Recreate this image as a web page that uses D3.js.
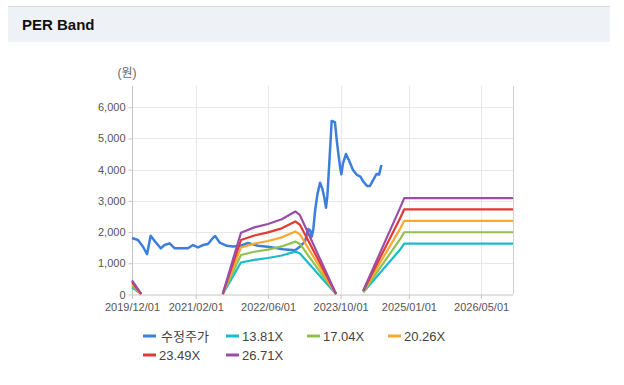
<!DOCTYPE html>
<html>
<head>
<meta charset="utf-8">
<script src="https://cdn.jsdelivr.net/npm/d3@7"></script>
<style>
  body { margin: 0; background: #fff; }
  svg { display: block; font-family: "Liberation Sans", Arial, "Noto Sans CJK KR", sans-serif; }
</style>
</head>
<body>
<svg id="chart"></svg>
<script>
/* price line (수정주가) */
const priceDates = [
  '2019-12-01', '2020-01-10', '2020-02-13', '2020-03-11', '2020-04-04', '2020-05-01',
  '2020-06-11', '2020-07-07', '2020-08-10', '2020-09-13', '2020-12-11', '2021-01-13',
  '2021-02-16', '2021-03-21', '2021-04-24', '2021-05-28', '2021-06-12', '2021-07-12',
  '2021-08-28', '2021-10-09', '2021-11-25', '2022-01-17', '2022-03-26', '2022-06-14',
  '2022-09-09', '2022-11-29', '2023-01-01', '2023-02-04', '2023-02-26', '2023-03-10',
  '2023-03-21', '2023-04-01', '2023-04-12', '2023-04-28', '2023-05-16', '2023-05-31',
  '2023-06-14', '2023-06-25', '2023-07-04', '2023-07-17', '2023-07-26', '2023-08-02',
  '2023-08-24', '2023-09-05', '2023-09-15', '2023-09-27', '2023-10-06', '2023-10-17',
  '2023-11-06', '2023-11-28', '2023-12-23', '2024-01-19', '2024-02-11', '2024-03-01',
  '2024-03-26', '2024-04-15', '2024-05-07', '2024-05-29', '2024-06-15', '2024-07-01'
]
const priceValues = [
  1810, 1745, 1530, 1290, 1885, 1715,
  1480, 1585, 1640, 1480, 1480, 1585,
  1510, 1585, 1620, 1820, 1870, 1660,
  1560, 1540, 1560, 1650, 1560, 1520,
  1450, 1420, 1530, 1700, 2100, 2060,
  1850, 2100, 2650, 3200, 3580, 3400,
  3100, 2780, 3150, 4200, 4950, 5560,
  5520, 4950, 4550, 4100, 3850, 4200,
  4500, 4280, 3990, 3830, 3780, 3620,
  3480, 3480, 3670, 3860, 3840, 4150
]

/* PER band lines, null = no value */
const bandDates = [
  '2019-12-01', '2020-02-01', '2020-03-01', '2021-08-01', '2021-12-01', '2022-03-01',
  '2022-06-01', '2022-09-01', '2022-12-01', '2023-01-01', '2023-09-01', '2023-10-01',
  '2024-03-01', '2024-11-01', '2024-12-01', '2026-12-01'
]
const band1381 = [230, 10, null, 10, 1025, 1110, 1170, 1250, 1375, 1315, 10, null, 70, 1425, 1630, 1630]
const band1704 = [290, 12, null, 12, 1265, 1370, 1440, 1540, 1695, 1620, 12, null, 85, 1755, 1995, 1995]
const band2026 = [345, 15, null, 15, 1505, 1630, 1715, 1830, 2020, 1925, 15, null, 100, 2085, 2360, 2360]
const band2349 = [395, 17, null, 17, 1745, 1890, 1990, 2120, 2340, 2235, 17, null, 115, 2420, 2730, 2730]
const band2671 = [450, 20, null, 20, 1980, 2150, 2260, 2410, 2660, 2540, 20, null, 130, 2750, 3090, 3090]

const seriesNames = ['수정주가', '13.81X', '17.04X', '20.26X', '23.49X', '26.71X']
const seriesColors = ['#3b7fdb', '#17bccd', '#8fc24f', '#f9a832', '#e03a32', '#9b4ea6']

const yTicks = [0, 1000, 2000, 3000, 4000, 5000, 6000]
const xTicks = ['2019/12/01', '2021/02/01', '2022/06/01', '2023/10/01', '2025/01/01', '2026/05/01']

const W = 624
const H = 385
const margin = { top: 86, right: 111, bottom: 90.5, left: 132 }

const parse = d3.timeParse('%Y-%m-%d')
const parseTick = d3.timeParse('%Y/%m/%d')

const svg = d3.select('#chart').attr('width', W).attr('height', H)

// header
svg.append('rect').attr('x', 8).attr('y', 6).attr('width', 602).attr('height', 36).attr('fill', '#eef2f7')
svg.append('line').attr('x1', 8).attr('x2', 610).attr('y1', 6.5).attr('y2', 6.5).attr('stroke', '#d6d9de')
svg.append('text').attr('x', 22).attr('y', 30)
  .attr('font-size', 15).attr('font-weight', 'bold').attr('fill', '#111')
  .text('PER Band')

const x = d3.scaleTime()
  .domain([parse('2019-12-01'), parse('2026-12-01')])
  .range([margin.left, W - margin.right])

const y = d3.scaleLinear()
  .domain([0, 6680])
  .range([H - margin.bottom, margin.top])

// grid
svg.append('g').selectAll('line').data(yTicks.slice(1)).join('line')
  .attr('x1', margin.left).attr('x2', W - margin.right)
  .attr('y1', d => Math.round(y(d)) + 0.5).attr('y2', d => Math.round(y(d)) + 0.5)
  .attr('stroke', '#e8e8e8')
svg.append('g').selectAll('line').data(xTicks.slice(1)).join('line')
  .attr('x1', d => Math.round(x(parseTick(d))) + 0.5).attr('x2', d => Math.round(x(parseTick(d))) + 0.5)
  .attr('y1', margin.top).attr('y2', H - margin.bottom)
  .attr('stroke', '#e8e8e8')

// right frame
svg.append('line')
  .attr('x1', W - margin.right + 0.5).attr('x2', W - margin.right + 0.5)
  .attr('y1', margin.top).attr('y2', H - margin.bottom)
  .attr('stroke', '#d0d0d0')

// axes
const yAxis = d3.axisLeft(y).tickValues(yTicks).tickFormat(d3.format(',')).tickSize(4).tickPadding(3)
const gy = svg.append('g').attr('transform', `translate(${margin.left + 0.5},0)`).call(yAxis)
const xAxis = d3.axisBottom(x).tickValues(xTicks.map(parseTick)).tickFormat(d3.timeFormat('%Y/%m/%d')).tickSize(4).tickPadding(4)
const gx = svg.append('g').attr('transform', `translate(0,${H - margin.bottom + 0.5})`).call(xAxis)
;[gx, gy].forEach(g => {
  g.select('.domain').attr('stroke', '#c4c4c4')
  g.selectAll('.tick line').attr('stroke', '#c4c4c4')
  g.selectAll('.tick text').attr('fill', '#555').attr('font-size', 11)
    .attr('font-family', '"Liberation Sans", Arial, sans-serif')
})
gy.select('.domain').attr('d', `M0,${margin.top}V${H - margin.bottom}`)
gx.select('.domain').attr('d', `M${margin.left},0H${W - margin.right}`)

svg.append('text').attr('x', 127).attr('y', 77).attr('text-anchor', 'middle')
  .attr('font-size', 12).attr('fill', '#666').text('(원)')

// lines
const line = d3.line()
  .defined(d => d[1] !== null)
  .x(d => x(d[0]))
  .y(d => y(d[1]))

// price drawn first so the bands sit on top of it
svg.append('path')
  .datum(priceDates.map((d, j) => [parse(d), priceValues[j]]))
  .attr('fill', 'none')
  .attr('stroke', seriesColors[0])
  .attr('stroke-width', 2.5)
  .attr('stroke-linejoin', 'round')
  .attr('d', line)

const bands = [band1381, band1704, band2026, band2349, band2671]
bands.forEach((vals, i) => {
  svg.append('path')
    .datum(bandDates.map((d, j) => [parse(d), vals[j]]))
    .attr('fill', 'none')
    .attr('stroke', seriesColors[i + 1])
    .attr('stroke-width', 2.2)
    .attr('stroke-linejoin', 'round')
    .attr('d', line)
})

// legend
const legendPos = [[143, 336], [226, 336], [307, 336], [388, 336], [143, 355], [226, 355]]
const legend = svg.append('g').selectAll('g').data(seriesNames).join('g')
  .attr('transform', (d, i) => `translate(${legendPos[i][0]},${legendPos[i][1]})`)
legend.append('line').attr('x1', 0).attr('x2', 13).attr('y1', 0).attr('y2', 0)
  .attr('stroke', (d, i) => seriesColors[i]).attr('stroke-width', 3)
legend.append('text').attr('x', (d, i) => (i === 0 ? 18 : 16)).attr('y', 4.5)
  .attr('font-size', 13).attr('fill', '#444')
  .text(d => d)
</script>
</body>
</html>
